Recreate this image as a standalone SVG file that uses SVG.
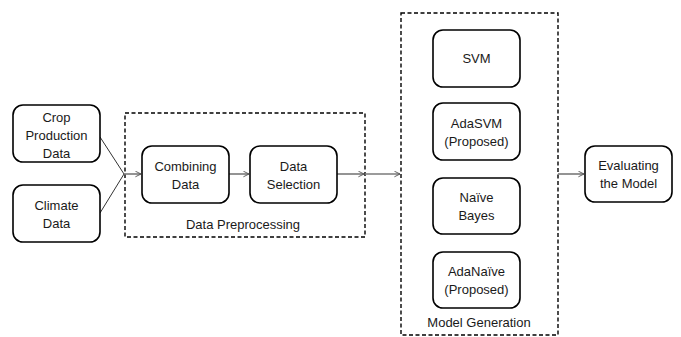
<svg xmlns="http://www.w3.org/2000/svg" width="681" height="337" viewBox="0 0 681 337">
<style>
.box{fill:#fff;stroke:#000;stroke-width:1.6}
.grp{fill:none;stroke:#000;stroke-width:1.4;stroke-dasharray:4 2.5}
.t{font-family:"Liberation Sans",Arial,sans-serif;font-size:13px;fill:#1a1a1a;text-anchor:middle}
.c{fill:none;stroke:#7a7a7a;stroke-width:1.6}
</style>
<defs>
<marker id="ah" viewBox="0 0 10 10" refX="9" refY="5" markerWidth="7" markerHeight="7" markerUnits="userSpaceOnUse" orient="auto">
<path d="M1,1 L9,5 L1,9" fill="none" stroke="#555" stroke-width="1.3"/>
</marker>
</defs>
<rect x="0" y="0" width="681" height="337" fill="#fff"/>
<g id="data-preprocessing">
<rect class="grp" x="125" y="113" width="240" height="124"/>
<text class="t" x="243" y="229">Data Preprocessing</text>
</g>
<g id="model-generation">
<rect class="grp" x="401" y="13" width="157" height="322"/>
<text class="t" x="479" y="327">Model Generation</text>
</g>
<g id="connectors">
<line class="c" x1="100" y1="137" x2="124" y2="174" stroke="#222" style="stroke:#333;stroke-width:1"/>
<line class="c" x1="100" y1="213" x2="124" y2="174" style="stroke:#333;stroke-width:1"/>
<line class="c" x1="124" y1="174" x2="141" y2="174" marker-end="url(#ah)"/>
<line class="c" x1="229" y1="174" x2="249" y2="174" marker-end="url(#ah)"/>
<line class="c" x1="337" y1="174" x2="364" y2="174" marker-end="url(#ah)"/>
<line class="c" x1="365" y1="174" x2="400" y2="174" marker-end="url(#ah)"/>
<line class="c" x1="558" y1="174" x2="584" y2="174" marker-end="url(#ah)"/>
</g>
<g id="crop-production-data">
<rect class="box" x="13" y="105" width="87" height="57" rx="10"/>
<text class="t" x="56.5" y="122">Crop</text>
<text class="t" x="56.5" y="140">Production</text>
<text class="t" x="56.5" y="158">Data</text>
</g>
<g id="climate-data">
<rect class="box" x="13" y="185" width="87" height="57" rx="10"/>
<text class="t" x="56.5" y="210">Climate</text>
<text class="t" x="56.5" y="228">Data</text>
</g>
<g id="combining-data">
<rect class="box" x="142" y="146" width="87" height="57" rx="10"/>
<text class="t" x="185.5" y="171">Combining</text>
<text class="t" x="185.5" y="189">Data</text>
</g>
<g id="data-selection">
<rect class="box" x="250" y="146" width="87" height="57" rx="10"/>
<text class="t" x="293.5" y="171">Data</text>
<text class="t" x="293.5" y="189">Selection</text>
</g>
<g id="svm">
<rect class="box" x="433" y="30" width="87" height="57" rx="10"/>
<text class="t" x="476.5" y="63">SVM</text>
</g>
<g id="adasvm">
<rect class="box" x="433" y="103" width="87" height="57" rx="10"/>
<text class="t" x="476.5" y="128">AdaSVM</text>
<text class="t" x="476.5" y="146">(Proposed)</text>
</g>
<g id="naive-bayes">
<rect class="box" x="433" y="178" width="87" height="56" rx="10"/>
<text class="t" x="476.5" y="202">Naïve</text>
<text class="t" x="476.5" y="220">Bayes</text>
</g>
<g id="adanaive">
<rect class="box" x="433" y="252" width="87" height="56" rx="10"/>
<text class="t" x="476.5" y="276">AdaNaïve</text>
<text class="t" x="476.5" y="294">(Proposed)</text>
</g>
<g id="evaluating-the-model">
<rect class="box" x="585" y="146" width="87" height="56" rx="10"/>
<text class="t" x="628.5" y="170">Evaluating</text>
<text class="t" x="628.5" y="188">the Model</text>
</g>
</svg>
